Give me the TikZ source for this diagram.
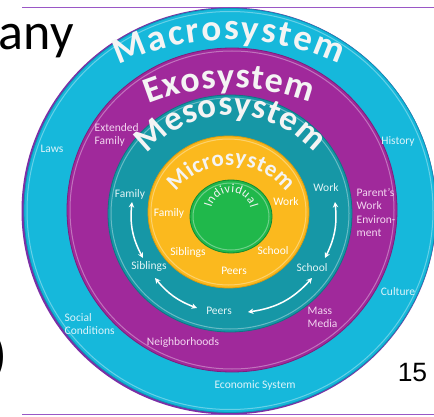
\documentclass[tikz,border=0pt]{standalone}
\usepackage{fontspec}
\setmainfont{Carlito}
\newfontfamily\numfont{Liberation Sans}
\usetikzlibrary{decorations.text,calc,arrows.meta}
\definecolor{cyanring}{HTML}{16B8DB}
\definecolor{cyanedge}{HTML}{0E93B5}
\definecolor{purplering}{HTML}{A0299B}
\definecolor{purpleedge}{HTML}{7E1E7C}
\definecolor{tealring}{HTML}{1697A6}
\definecolor{tealedge}{HTML}{0E7683}
\definecolor{yellowring}{HTML}{FBB91E}
\definecolor{yellowedge}{HTML}{D99A10}
\definecolor{greenring}{HTML}{20B84B}
\definecolor{greenedge}{HTML}{128A33}
\definecolor{slideline}{HTML}{9A57C6}
\definecolor{outershadow}{HTML}{7B2FA5}
\definecolor{cyantext}{HTML}{DDF3FA}
\definecolor{purpletext}{HTML}{F3D6F0}
\definecolor{tealtext}{HTML}{E2F4F6}
\definecolor{titlewhite}{HTML}{F4F4F4}
\newcommand\macrofont{\fontsize{37pt}{37pt}\selectfont\bfseries\color{titlewhite}}
\newcommand\exofont{\fontsize{36pt}{36pt}\selectfont\bfseries\color{titlewhite}}
\newcommand\mesofont{\fontsize{35pt}{35pt}\selectfont\bfseries\color{titlewhite}}
\newcommand\microfont{\fontsize{23pt}{23pt}\selectfont\bfseries\color{titlewhite}}
\newcommand\indivfont{\fontsize{12.5pt}{12.5pt}\selectfont\color{titlewhite}}
\begin{document}
\begin{tikzpicture}[x=1pt,y=1pt,
  lbl/.style={font=\fontsize{11.5pt}{13.5pt}\selectfont, inner sep=0pt, align=left},
  cyanlbl/.style={lbl, text=cyantext},
  purplelbl/.style={lbl, text=purpletext},
  teallbl/.style={lbl, text=tealtext},
  yellowlbl/.style={lbl, text=white},
  twoway/.style={draw=white, line width=1.5pt,
    {Stealth[length=5.5pt,width=5.5pt]}-{Stealth[length=5.5pt,width=5.5pt]}},
  bevel/.style={draw=white, draw opacity=0.35, line width=1pt}]
\useasboundingbox (0,0) rectangle (434,416);
\fill[white] (0,0) rectangle (434,416);

% slide lines
\coordinate (tl1) at (22,408.5);
\coordinate (tl2) at (434,408.5);
\coordinate (bl1) at (22,1.2);
\coordinate (bl2) at (434,1.2);
\draw[slideline, line width=1pt] (tl1) -- (tl2);
\draw[slideline, line width=1pt] (bl1) -- (bl2);

% slide text fragments
\node[anchor=base east, inner sep=0pt, font=\fontsize{52pt}{52pt}\selectfont] (any) at (74,366) {any};
\node[anchor=east, inner sep=0pt, font=\fontsize{52pt}{52pt}\selectfont] (paren) at (7,59) {)};
\node[inner sep=0pt, font=\numfont\fontsize{26.5pt}{26.5pt}\selectfont] (pagenum) at (412.5,43.5) {15};

% rings
\fill[outershadow] (229,205) ellipse [x radius=207.5pt, y radius=203.5pt];
\fill[cyanring, draw=cyanedge, line width=0.8pt] (230,205.5) ellipse [x radius=206pt, y radius=202pt];
\draw[bevel] (230,205.5) ellipse [x radius=203pt, y radius=199pt];
\fill[purplering, draw=purpleedge, line width=0.8pt] (232,206) ellipse [x radius=165pt, y radius=162pt];
\draw[bevel] (232,206) ellipse [x radius=162pt, y radius=159pt];
\fill[tealring, draw=tealedge, line width=0.8pt] (230,202.5) ellipse [x radius=122pt, y radius=118.5pt];
\draw[bevel] (230,202.5) ellipse [x radius=119pt, y radius=115.5pt];
\fill[yellowring, draw=yellowedge, line width=0.8pt] (228.5,204) ellipse [x radius=80.5pt, y radius=76pt];
\draw[bevel] (228.5,204) ellipse [x radius=77.5pt, y radius=73pt];
\fill[greenring, draw=greenedge, line width=0.8pt] (231,199.5) ellipse [x radius=41pt, y radius=36.5pt];
\draw[bevel] (231,199.5) ellipse [x radius=38pt, y radius=33.5pt];

% curved titles
\path[decorate, decoration={text along path, text={|\macrofont|Macrosystem}, text align={fit to path}}]
  ($(230,117)+(115.4:259pt)$) arc[start angle=115.4, end angle=65.1, radius=259pt];
\path[decorate, decoration={text along path, text={|\exofont|Exosystem}, text align={fit to path}}]
  ($(231,107)+(112:221pt)$) arc[start angle=112, end angle=69, radius=221pt];
\path[decorate, decoration={text along path, text={|\mesofont|Mesosystem}, text align={fit to path}}]
  ($(231,190)+(139.5:110.7pt)$) arc[start angle=139.5, end angle=41.4, radius=110.7pt];
\path[decorate, decoration={text along path, text={|\microfont|Microsystem}, text align={fit to path}}]
  ($(231,181.5)+(142.3:69.5pt)$) arc[start angle=142.3, end angle=37.7, radius=69.5pt];
\path[decorate, decoration={text along path, text={|\indivfont|Individual}, text align={fit to path}}]
  ($(231,203.5)+(167:20pt)$) arc[start angle=167, end angle=13, radius=20pt];

% macrosystem labels
\node[cyanlbl] (laws) at (52,267) {Laws};
\node[cyanlbl] (history) at (398,275) {History};
\node[cyanlbl] (culture) at (398,124) {Culture};
\node[cyanlbl, anchor=west] (social) at (64.5,92) {Social\\Conditions};
\node[cyanlbl] (econ) at (255,31) {Economic System};

% exosystem labels
\node[purplelbl, anchor=west] (extfam) at (94.5,281) {Extended\\Family};
\node[purplelbl, anchor=west] (parent) at (356.5,203.5) {Parent’s\\Work\\Environ-\\ment};
\node[purplelbl, anchor=west] (media) at (307.5,98.5) {Mass\\Media};
\node[purplelbl] (neigh) at (183,74) {Neighborhoods};

% mesosystem labels
\node[teallbl] (mfamily) at (130,222) {Family};
\node[teallbl] (msiblings) at (149,150) {Siblings};
\node[teallbl] (mpeers) at (219,105) {Peers};
\node[teallbl] (mschool) at (312,148) {School};
\node[teallbl] (mwork) at (326,228) {Work};

% microsystem labels
\node[yellowlbl] (yfamily) at (169,203) {Family};
\node[yellowlbl] (ywork) at (286,214) {Work};
\node[yellowlbl] (ysiblings) at (188,164) {Siblings};
\node[yellowlbl] (yschool) at (273,165) {School};
\node[yellowlbl] (ypeers) at (234,145) {Peers};

% mesosystem arrows
\coordinate (al1) at (132,214);
\coordinate (al2) at (143,158);
\coordinate (ar1) at (335,214);
\coordinate (ar2) at (325,158);
\coordinate (ab1) at (155,138);
\coordinate (ab2) at (197,108);
\coordinate (ab3) at (248,104);
\coordinate (ab4) at (312,138);
\draw[twoway] (al1) to[bend right=17] (al2);
\draw[twoway] (ar1) to[bend left=16] (ar2);
\draw[twoway] (ab1) to[bend right=15] (ab2);
\draw[twoway] (ab3) to[bend right=20] (ab4);
\end{tikzpicture}
\end{document}
